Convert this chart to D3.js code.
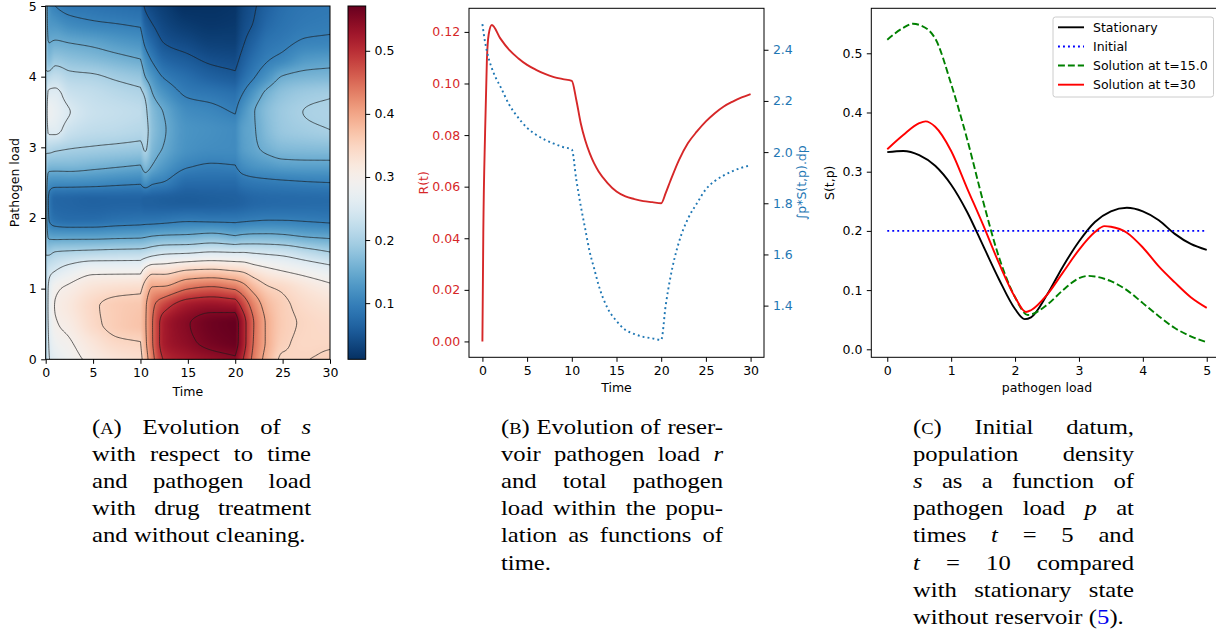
<!DOCTYPE html>
<meta charset="utf-8" />
<style>
  body { margin: 0; background: #fff; }
</style>
<svg width="1216" height="630"></svg>
<script src="https://d3js.org/d3.v7.min.js"></script>
<script>
  /* global d3 */

  // ---------- panel A: s(t,p) profiles ----------
  var heatLoad = [0, 0.25, 0.5, 0.75, 1, 1.25, 1.5, 1.75, 2, 2.25, 2.5, 2.75, 3, 3.25, 3.5, 3.75, 4, 4.25, 4.5, 4.75, 5];
  var heatTimes = [0, 0.3, 1, 2.5, 5, 7.5, 10, 10.5, 11.25, 12.5, 15, 17.5, 20, 20.75, 22, 23.5, 25, 27.5, 30];
  // one row per time above, values along heatLoad
  var heatProfiles = [
    [0.2, 0.2, 0.2, 0.2, 0.2, 0.2, 0.2, 0.2, 0.2, 0.2, 0.2, 0.2, 0.2, 0.2, 0.2, 0.2, 0.2, 0.2, 0.2, 0.2, 0.2],
    [0.245, 0.25, 0.255, 0.258, 0.255, 0.235, 0.195, 0.14, 0.1, 0.095, 0.12, 0.17, 0.215, 0.26, 0.28, 0.26, 0.215, 0.17, 0.148, 0.13, 0.122],
    [0.265, 0.282, 0.295, 0.302, 0.292, 0.25, 0.205, 0.135, 0.08, 0.07, 0.115, 0.168, 0.21, 0.26, 0.272, 0.26, 0.225, 0.185, 0.152, 0.125, 0.1],
    [0.285, 0.297, 0.31, 0.318, 0.307, 0.27, 0.21, 0.135, 0.075, 0.068, 0.115, 0.168, 0.203, 0.235, 0.251, 0.235, 0.21, 0.178, 0.147, 0.112, 0.088],
    [0.31, 0.325, 0.342, 0.345, 0.328, 0.29, 0.215, 0.135, 0.075, 0.065, 0.113, 0.162, 0.198, 0.222, 0.232, 0.225, 0.205, 0.17, 0.14, 0.104, 0.085],
    [0.326, 0.345, 0.36, 0.36, 0.336, 0.29, 0.218, 0.138, 0.08, 0.066, 0.108, 0.156, 0.194, 0.218, 0.226, 0.216, 0.194, 0.16, 0.13, 0.1, 0.08],
    [0.336, 0.35, 0.37, 0.366, 0.34, 0.29, 0.22, 0.14, 0.083, 0.066, 0.104, 0.15, 0.19, 0.212, 0.22, 0.208, 0.184, 0.15, 0.122, 0.095, 0.076],
    [0.375, 0.39, 0.395, 0.393, 0.37, 0.315, 0.225, 0.143, 0.083, 0.062, 0.12, 0.17, 0.205, 0.212, 0.208, 0.195, 0.15, 0.12, 0.09, 0.065, 0.045],
    [0.435, 0.447, 0.448, 0.44, 0.405, 0.335, 0.235, 0.148, 0.083, 0.062, 0.105, 0.15, 0.168, 0.176, 0.172, 0.152, 0.125, 0.095, 0.07, 0.05, 0.035],
    [0.503, 0.52, 0.52, 0.485, 0.41, 0.335, 0.245, 0.152, 0.085, 0.06, 0.098, 0.13, 0.148, 0.153, 0.148, 0.125, 0.097, 0.07, 0.048, 0.035, 0.025],
    [0.523, 0.543, 0.548, 0.525, 0.448, 0.355, 0.25, 0.155, 0.09, 0.058, 0.075, 0.104, 0.121, 0.123, 0.115, 0.096, 0.078, 0.056, 0.037, 0.022, 0.012],
    [0.535, 0.56, 0.565, 0.535, 0.46, 0.36, 0.258, 0.162, 0.088, 0.06, 0.075, 0.098, 0.115, 0.118, 0.108, 0.09, 0.064, 0.044, 0.028, 0.018, 0.013],
    [0.545, 0.568, 0.571, 0.53, 0.445, 0.35, 0.255, 0.15, 0.088, 0.062, 0.075, 0.1, 0.113, 0.113, 0.098, 0.082, 0.056, 0.04, 0.027, 0.02, 0.016],
    [0.505, 0.525, 0.525, 0.49, 0.425, 0.345, 0.255, 0.155, 0.09, 0.065, 0.085, 0.115, 0.133, 0.135, 0.122, 0.1, 0.075, 0.058, 0.045, 0.037, 0.032],
    [0.435, 0.445, 0.448, 0.43, 0.385, 0.325, 0.25, 0.158, 0.093, 0.07, 0.09, 0.125, 0.145, 0.148, 0.149, 0.13, 0.098, 0.08, 0.065, 0.052, 0.047],
    [0.38, 0.39, 0.39, 0.38, 0.355, 0.31, 0.245, 0.158, 0.095, 0.072, 0.093, 0.132, 0.16, 0.172, 0.175, 0.162, 0.125, 0.098, 0.085, 0.073, 0.065],
    [0.345, 0.356, 0.36, 0.358, 0.345, 0.3, 0.24, 0.155, 0.095, 0.073, 0.095, 0.138, 0.17, 0.187, 0.19, 0.18, 0.152, 0.108, 0.092, 0.083, 0.078],
    [0.349, 0.345, 0.346, 0.34, 0.325, 0.285, 0.222, 0.145, 0.093, 0.074, 0.098, 0.14, 0.173, 0.195, 0.201, 0.192, 0.162, 0.13, 0.103, 0.092, 0.087],
    [0.358, 0.345, 0.34, 0.33, 0.31, 0.27, 0.205, 0.14, 0.09, 0.075, 0.1, 0.14, 0.175, 0.2, 0.205, 0.197, 0.165, 0.135, 0.105, 0.095, 0.09]
  ];
  var phaseBreaks = [10, 20]; // treatment switches, the solution has kinks there
  var colorLimits = [0.011, 0.571];
  var contourLevels = [0.05, 0.1, 0.15, 0.2, 0.25, 0.3, 0.35, 0.4, 0.45, 0.5, 0.55];
  var timeTicks = [0, 5, 10, 15, 20, 25, 30];
  var loadTicks = [0, 1, 2, 3, 4, 5];
  var cbTicks = [0.1, 0.2, 0.3, 0.4, 0.5];

  // ---------- panel B ----------
  var tR = [0, 0.1, 0.3, 0.5, 0.7, 1.05, 2, 3, 4, 5, 6, 7, 8, 9, 10, 10.5, 11, 11.5, 12, 12.5, 13, 14, 15, 16, 17, 18, 19, 20, 20.5, 21, 22, 23, 24, 25, 26, 27, 28, 29, 30];
  var rValues = [0, 0.042, 0.081, 0.109, 0.119, 0.1227, 0.1175, 0.113, 0.1098, 0.1072, 0.1053, 0.1037, 0.1025, 0.1017, 0.101,
    0.0937, 0.0846, 0.078, 0.073, 0.069, 0.0659, 0.0614, 0.0581, 0.0562, 0.0552, 0.0544, 0.054, 0.0536,
    0.0575, 0.062, 0.0704, 0.0769, 0.0814, 0.0853, 0.0885, 0.0911, 0.093, 0.0946, 0.0959];
  var tTotal = [0, 0.25, 0.5, 0.75, 1, 1.5, 2, 3, 4, 5, 6, 7, 8, 9, 10, 10.5, 11, 11.5, 12, 12.5, 13, 14, 15, 16, 17, 18, 19, 20, 20.5, 21, 22, 23, 24, 25, 26, 27, 28, 29, 30];
  var totalLoad = [2.5, 2.44, 2.395, 2.36, 2.333, 2.29, 2.257, 2.185, 2.135, 2.095, 2.068, 2.048, 2.033, 2.02, 2.01,
    1.893, 1.79, 1.7, 1.61, 1.545, 1.48, 1.39, 1.34, 1.305, 1.289, 1.278, 1.272, 1.266,
    1.4, 1.505, 1.65, 1.74, 1.8, 1.855, 1.887, 1.909, 1.926, 1.939, 1.948];
  var rTicks = [0, 0.02, 0.04, 0.06, 0.08, 0.1, 0.12];
  var totalTicks = [1.4, 1.6, 1.8, 2.0, 2.2, 2.4];

  // ---------- panel C ----------
  var pStat = [0, 0.25, 0.5, 0.75, 1, 1.25, 1.5, 1.75, 2, 2.15, 2.25, 2.5, 2.75, 3, 3.25, 3.5, 3.75, 4, 4.25, 4.5, 4.75, 5];
  var sStat = [0.333, 0.335, 0.328, 0.31, 0.278, 0.232, 0.175, 0.118, 0.068, 0.051, 0.054, 0.092, 0.14, 0.182, 0.215, 0.233, 0.239, 0.233, 0.218, 0.195, 0.178, 0.168];
  var pInit = [0, 5];
  var sInit = [0.2, 0.2];
  var p15 = [0, 0.25, 0.4, 0.5, 0.75, 1, 1.25, 1.5, 1.75, 2, 2.2, 2.5, 2.75, 3, 3.15, 3.25, 3.5, 3.75, 4, 4.25, 4.5, 4.75, 5];
  var s15 = [0.523, 0.543, 0.55, 0.548, 0.525, 0.448, 0.355, 0.25, 0.155, 0.088, 0.058, 0.075, 0.1, 0.12, 0.124, 0.123, 0.115, 0.1, 0.078, 0.056, 0.036, 0.022, 0.012];
  var p30 = [0, 0.25, 0.5, 0.6, 0.75, 1, 1.25, 1.5, 1.75, 2, 2.17, 2.25, 2.5, 2.75, 3, 3.25, 3.4, 3.5, 3.75, 4, 4.25, 4.5, 4.75, 5];
  var s30 = [0.338, 0.362, 0.382, 0.385, 0.376, 0.335, 0.272, 0.21, 0.145, 0.088, 0.063, 0.066, 0.092, 0.13, 0.168, 0.198, 0.208, 0.207, 0.197, 0.172, 0.14, 0.113, 0.088, 0.07];
  var sTicks = [0, 0.1, 0.2, 0.3, 0.4, 0.5];
  var pTicks = [0, 1, 2, 3, 4, 5];
  var legendNames = ["Stationary", "Initial", "Solution at t=15.0", "Solution at t=30"];

  var svg = d3.select("svg");
  var FS = 12.5;
  var SANS = "'DejaVu Sans', sans-serif";
  var SERIF = "'Liberation Serif', 'Times New Roman', 'DejaVu Serif', serif";

  function styleAxis(g, color) {
    g.select(".domain").remove();
    g.selectAll("line").attr("stroke", "#000").attr("stroke-width", 1);
    g.selectAll("text").attr("font-size", FS).attr("font-family", SANS).attr("fill", color || "#000");
  }
  function label(g, txt) {
    return g.append("text").attr("font-size", FS).attr("font-family", SANS).text(txt);
  }

  // monotone cubic through read values, used only to shade/contour smoothly
  function pchip(xs, ys) {
    var n = xs.length, h = [], d = [], m = [];
    for (var i = 0; i < n - 1; i++) { h[i] = xs[i + 1] - xs[i]; d[i] = (ys[i + 1] - ys[i]) / h[i]; }
    m[0] = d[0]; m[n - 1] = d[n - 2];
    for (i = 1; i < n - 1; i++) {
      if (d[i - 1] * d[i] <= 0) m[i] = 0;
      else {
        var w1 = 2 * h[i] + h[i - 1], w2 = h[i] + 2 * h[i - 1];
        m[i] = (w1 + w2) / (w1 / d[i - 1] + w2 / d[i]);
      }
    }
    return function (x) {
      var k = Math.max(0, Math.min(n - 2, d3.bisectRight(xs, x) - 1));
      var s = (x - xs[k]) / h[k], s2 = s * s, s3 = s2 * s;
      return (2 * s3 - 3 * s2 + 1) * ys[k] + (s3 - 2 * s2 + s) * h[k] * m[k] +
        (-2 * s3 + 3 * s2) * ys[k + 1] + (s3 - s2) * h[k] * m[k + 1];
    };
  }

  var colFns = heatProfiles.map(function (prof) { return pchip(heatLoad, prof); });
  var phases = [[0, phaseBreaks[0]], phaseBreaks, [phaseBreaks[1], 30]].map(function (ab) {
    return d3.range(heatTimes.length).filter(function (k) { return heatTimes[k] >= ab[0] && heatTimes[k] <= ab[1]; });
  });
  function rowField(p) {
    var v = colFns.map(function (f) { return f(p); });
    var fns = phases.map(function (ks) {
      return pchip(ks.map(function (k) { return heatTimes[k]; }), ks.map(function (k) { return v[k]; }));
    });
    return function (t) { return fns[t <= phaseBreaks[0] ? 0 : t <= phaseBreaks[1] ? 1 : 2](t); };
  }

  // ================= panel A =================
  var xA = d3.scaleLinear().domain([0, 30]).range([45.7, 330]);
  var yA = d3.scaleLinear().domain([0, 5]).range([359.3, 6]);
  var cScale = function (v) { return d3.interpolateRdBu(1 - (v - colorLimits[0]) / (colorLimits[1] - colorLimits[0])); };

  var W = Math.round(xA(30) - xA(0)), H = Math.round(yA(0) - yA(5));
  var canvas = document.createElement("canvas");
  canvas.width = W; canvas.height = H;
  var ctx = canvas.getContext("2d");
  var img = ctx.createImageData(W, H);
  var lut = d3.range(512).map(function (k) { return d3.rgb(d3.interpolateRdBu(1 - k / 511)); });
  for (var j = 0; j < H; j++) {
    var f = rowField(5 - (j + 0.5) / H * 5);
    for (var i = 0; i < W; i++) {
      var v = f((i + 0.5) / W * 30);
      var k = Math.round((v - colorLimits[0]) / (colorLimits[1] - colorLimits[0]) * 511);
      var c = lut[Math.max(0, Math.min(511, k))], o = 4 * (j * W + i);
      img.data[o] = c.r; img.data[o + 1] = c.g; img.data[o + 2] = c.b; img.data[o + 3] = 255;
    }
  }
  ctx.putImageData(img, 0, 0);

  var defs = svg.append("defs");
  defs.append("clipPath").attr("id", "clipA").append("rect")
    .attr("x", xA(0)).attr("y", yA(5)).attr("width", xA(30) - xA(0)).attr("height", yA(0) - yA(5));

  var gA = svg.append("g");
  gA.append("image").attr("href", canvas.toDataURL())
    .attr("x", xA(0)).attr("y", yA(5)).attr("width", xA(30) - xA(0)).attr("height", yA(0) - yA(5))
    .attr("preserveAspectRatio", "none");

  var nx = 241, ny = 201, dt = 30 / (nx - 1), dp = 5 / (ny - 1);
  var grid = new Array(nx * ny);
  for (j = 0; j < ny; j++) {
    f = rowField(j * dp);
    for (i = 0; i < nx; i++) grid[j * nx + i] = f(i * dt);
  }
  var contours = d3.contours().size([nx, ny]).thresholds(contourLevels)(grid);
  var proj = d3.geoTransform({
    point: function (x, y) { this.stream.point(xA((x - 0.5) * dt), yA((y - 0.5) * dp)); }
  });
  gA.append("g").attr("clip-path", "url(#clipA)")
    .selectAll("path").data(contours).join("path")
    .attr("d", d3.geoPath(proj))
    .attr("fill", "none").attr("stroke", "#1a1a1a").attr("stroke-width", 0.75).attr("stroke-opacity", 0.9);

  gA.append("rect").attr("x", xA(0)).attr("y", yA(5)).attr("width", xA(30) - xA(0)).attr("height", yA(0) - yA(5))
    .attr("fill", "none").attr("stroke", "#000").attr("stroke-width", 1);
  gA.append("g").attr("transform", "translate(0," + yA(0) + ")")
    .call(d3.axisBottom(xA).tickValues(timeTicks).tickFormat(d3.format("d")).tickSize(4.5).tickPadding(4.4))
    .call(styleAxis);
  gA.append("g").attr("transform", "translate(" + xA(0) + ",0)")
    .call(d3.axisLeft(yA).tickValues(loadTicks).tickFormat(d3.format("d")).tickSize(4.5).tickPadding(4.4))
    .call(styleAxis);
  label(gA, "Time").attr("x", (xA(0) + xA(30)) / 2).attr("y", 395.5).attr("text-anchor", "middle");
  label(gA, "Pathogen load").attr("transform", "translate(19," + (yA(0) + yA(5)) / 2 + ") rotate(-90)")
    .attr("text-anchor", "middle");

  // colorbar
  var yCb = d3.scaleLinear().domain(colorLimits).range([359.3, 6]);
  var grad = defs.append("linearGradient").attr("id", "cbGrad").attr("x1", 0).attr("y1", 1).attr("x2", 0).attr("y2", 0);
  d3.range(41).forEach(function (q) {
    var val = colorLimits[0] + q / 40 * (colorLimits[1] - colorLimits[0]);
    grad.append("stop").attr("offset", q / 40).attr("stop-color", cScale(val));
  });
  svg.append("rect").attr("x", 348).attr("y", 6).attr("width", 17.7).attr("height", 353.3)
    .attr("fill", "url(#cbGrad)").attr("stroke", "#000").attr("stroke-width", 1);
  svg.append("g").attr("transform", "translate(365.7,0)")
    .call(d3.axisRight(yCb).tickValues(cbTicks).tickFormat(d3.format(".1f")).tickSize(4.5).tickPadding(4.4))
    .call(styleAxis);

  // ================= panel B =================
  var xB = d3.scaleLinear().domain([-1.5, 31.5]).range([469, 764]);
  var yBL = d3.scaleLinear().domain([-0.00615, 0.12915]).range([357.3, 8.3]);
  var yBR = d3.scaleLinear().domain([1.198, 2.562]).range([357.3, 8.3]);
  var red = "#d62728", blue = "#1f77b4";
  var gB = svg.append("g");
  gB.append("path").datum(d3.zip(tR, rValues))
    .attr("d", d3.line().x(function (d) { return xB(d[0]); }).y(function (d) { return yBL(d[1]); }).curve(d3.curveMonotoneX))
    .attr("fill", "none").attr("stroke", red).attr("stroke-width", 1.9);
  gB.append("path").datum(d3.zip(tTotal, totalLoad))
    .attr("d", d3.line().x(function (d) { return xB(d[0]); }).y(function (d) { return yBR(d[1]); }).curve(d3.curveMonotoneX))
    .attr("fill", "none").attr("stroke", blue).attr("stroke-width", 1.9).attr("stroke-dasharray", "1.9,3.1");
  gB.append("rect").attr("x", 469).attr("y", 8.3).attr("width", 295).attr("height", 349)
    .attr("fill", "none").attr("stroke", "#000").attr("stroke-width", 1);
  gB.append("g").attr("transform", "translate(0,357.3)")
    .call(d3.axisBottom(xB).tickValues(timeTicks).tickFormat(d3.format("d")).tickSize(4.5).tickPadding(4.4))
    .call(styleAxis);
  gB.append("g").attr("transform", "translate(469,0)")
    .call(d3.axisLeft(yBL).tickValues(rTicks).tickFormat(d3.format(".2f")).tickSize(4.5).tickPadding(4.4))
    .call(styleAxis, red);
  gB.append("g").attr("transform", "translate(764,0)")
    .call(d3.axisRight(yBR).tickValues(totalTicks).tickFormat(d3.format(".1f")).tickSize(4.5).tickPadding(4.4))
    .call(styleAxis, blue);
  label(gB, "Time").attr("x", 616.5).attr("y", 391.5).attr("text-anchor", "middle");
  label(gB, "R(t)").attr("transform", "translate(428,182.8) rotate(-90)").attr("text-anchor", "middle").attr("fill", red);
  label(gB, "\u222Bp*S(t,p).dp").attr("transform", "translate(806,182.8) rotate(-90)").attr("text-anchor", "middle")
    .attr("fill", blue);

  // ================= panel C =================
  var xC = d3.scaleLinear().domain([-0.25, 5.25]).range([871.3, 1222.7]);
  var yC = d3.scaleLinear().domain([-0.0135, 0.576]).range([357.3, 8.3]);
  var lineC = d3.line().x(function (d) { return xC(d[0]); }).y(function (d) { return yC(d[1]); }).curve(d3.curveMonotoneX);
  var seriesC = [
    { p: pStat, s: sStat, color: "#000000", dash: null },
    { p: pInit, s: sInit, color: "#0000ff", dash: "1.9,3.1" },
    { p: p15, s: s15, color: "#008000", dash: "6.9,3" },
    { p: p30, s: s30, color: "#ff0000", dash: null }
  ];
  var gC = svg.append("g");
  seriesC.forEach(function (sr) {
    gC.append("path").datum(d3.zip(sr.p, sr.s)).attr("d", lineC)
      .attr("fill", "none").attr("stroke", sr.color).attr("stroke-width", 1.9)
      .attr("stroke-dasharray", sr.dash);
  });
  gC.append("rect").attr("x", 871.3).attr("y", 8.3).attr("width", 1222.7 - 871.3).attr("height", 349)
    .attr("fill", "none").attr("stroke", "#000").attr("stroke-width", 1);
  gC.append("g").attr("transform", "translate(0,357.3)")
    .call(d3.axisBottom(xC).tickValues(pTicks).tickFormat(d3.format("d")).tickSize(4.5).tickPadding(4.4))
    .call(styleAxis);
  gC.append("g").attr("transform", "translate(871.3,0)")
    .call(d3.axisLeft(yC).tickValues(sTicks).tickFormat(d3.format(".1f")).tickSize(4.5).tickPadding(4.4))
    .call(styleAxis);
  label(gC, "pathogen load").attr("x", 1047).attr("y", 392).attr("text-anchor", "middle");
  label(gC, "S(t,p)").attr("transform", "translate(834,182.8) rotate(-90)").attr("text-anchor", "middle");

  // legend
  var lg = gC.append("g");
  lg.append("rect").attr("x", 1053).attr("y", 17).attr("width", 160.5).attr("height", 80).attr("rx", 2.5)
    .attr("fill", "#fff").attr("fill-opacity", 0.8).attr("stroke", "#cccccc").attr("stroke-width", 1);
  legendNames.forEach(function (name, q) {
    var yy = 27.3 + q * 19.13;
    lg.append("line").attr("x1", 1058).attr("x2", 1084).attr("y1", yy).attr("y2", yy)
      .attr("stroke", seriesC[q].color).attr("stroke-width", 1.9).attr("stroke-dasharray", seriesC[q].dash);
    label(lg, name).attr("x", 1093).attr("y", yy).attr("dy", "0.35em");
  });

  // ================= captions =================
  var capA = ["({A}) Evolution of _s_", "with respect to time", "and pathogen load", "with drug treatment", "and without cleaning."];
  var capB = ["({B}) Evolution of reser-", "voir pathogen load _r_", "and total pathogen", "load within the popu-", "lation as functions of", "time."];
  var capC = ["({C}) Initial datum,", "population density", "_s_ as a function of", "pathogen load _p_ at", "times _t_ = 5 and",
    "_t_ = 10 compared", "with stationary state", "without reservoir ([5])."];

  var capLead = 27.1, stretch = 1.12;
  function addWord(g, word, y) {
    var t = g.append("text").attr("y", y).attr("font-family", SERIF).attr("font-size", 22).attr("fill", "#000");
    word.split(/(_[^_]+_|\{[^}]+\}|\[[^\]]+\])/).filter(function (s) { return s; }).forEach(function (s) {
      var ts = t.append("tspan");
      if (s[0] === "_") ts.text(s.slice(1, -1)).attr("font-style", "italic");
      else if (s[0] === "{") ts.text(s.slice(1, -1)).attr("font-size", 16.5);
      else if (s[0] === "[") ts.text(s.slice(1, -1)).attr("fill", "#0000ee");
      else ts.text(s);
    });
    var w = t.node().getComputedTextLength() * stretch;
    t.attr("textLength", w).attr("lengthAdjust", "spacingAndGlyphs");
    return { node: t, w: w };
  }
  function drawCaption(lines, x0, x1, y0) {
    var g = svg.append("g");
    lines.forEach(function (line, li) {
      var y = y0 + li * capLead;
      var words = line.split(" ").map(function (w) { return addWord(g, w, y); });
      var total = d3.sum(words, function (w) { return w.w; });
      var last = li === lines.length - 1;
      var gap = last || words.length < 2 ? 6.5 : (x1 - x0 - total) / (words.length - 1);
      var x = x0;
      words.forEach(function (w) { w.node.attr("x", x); x += w.w + gap; });
    });
  }
  drawCaption(capA, 92, 311, 434);
  drawCaption(capB, 501, 723, 434);
  drawCaption(capC, 913, 1134, 434);
</script>
